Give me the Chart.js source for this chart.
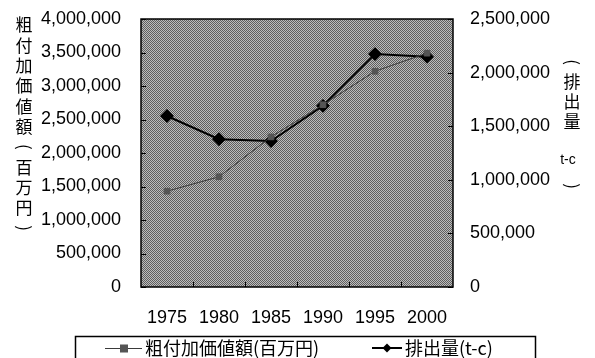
<!DOCTYPE html>
<html>
<head>
<meta charset="utf-8">
<script src="https://cdn.jsdelivr.net/npm/chart.js@4/dist/chart.umd.min.js"></script>
<style>
    html, body { margin: 0; padding: 0; background: #fff; }
    #wrap { width: 595px; height: 358px; position: relative; }
</style>
</head>
<body>
<div id="wrap"><canvas id="chartEmission" width="595" height="358"></canvas></div>
<script>
const years = ['1975', '1980', '1985', '1990', '1995', '2000'];
const valueAdded = [1430000, 1645000, 2240000, 2720000, 3220000, 3490000];
const emissions = [1595000, 1378000, 1362000, 1690000, 2173000, 2149000];
const leftTitle = ['粗', '付', '加', '価', '値', '額', '(', '百', '万', '円', ')'];
const rightTitle = ['(', '排', '出', '量'];
const seriesNames = ['粗付加価値額(百万円)', '排出量(t-c)'];

const palette = {
    ink: '#000000',
    squareLine: '#3a3a3a',
    square: '#555555',
    dark: '#5e5e5e',
    light: '#bcbcbc',
};

const numFont = { family: '"Liberation Sans", Arial, sans-serif', size: 18 };
const cjkFont = '"Noto Sans CJK JP", sans-serif';

function ditherPattern(ctx) {
    const tile = document.createElement('canvas');
    tile.width = 2;
    tile.height = 2;
    const t = tile.getContext('2d');
    t.fillStyle = palette.light;
    t.fillRect(0, 0, 2, 2);
    t.fillStyle = palette.dark;
    t.fillRect(0, 0, 1, 1);
    t.fillRect(1, 1, 1, 1);
    return ctx.createPattern(tile, 'repeat');
}

// vertical title glyph: brackets are turned so they read as ︵ ︶
function drawVChar(ctx, ch, x, y) {
    if (ch === '(' || ch === ')') {
        ctx.save();
        ctx.translate(x, y);
        ctx.rotate(Math.PI / 2);
        ctx.fillText(ch, 0, 0);
        ctx.restore();
    } else {
        ctx.fillText(ch, x, y);
    }
}

function fixWidth(width) {
    return (scale) => {
        scale.width = width;
        scale.paddingTop = 0;
        scale.paddingBottom = 0;
    };
}

const plotFrame = {
    id: 'plotFrame',
    beforeDatasetsDraw(chart) {
        const { ctx, chartArea: a } = chart;
        ctx.save();
        ctx.fillStyle = ditherPattern(ctx);
        ctx.fillRect(a.left, a.top, a.right - a.left, a.bottom - a.top);
        ctx.restore();
    },
    afterDatasetsDraw(chart) {
        const { ctx, chartArea: a, scales } = chart;
        ctx.save();
        ctx.strokeStyle = palette.ink;
        ctx.lineWidth = 1.5;
        ctx.strokeRect(a.left, a.top, a.right - a.left, a.bottom - a.top);

        ctx.lineWidth = 1;
        ctx.beginPath();
        scales.y.ticks.forEach((t) => {
            const y = Math.round(scales.y.getPixelForValue(t.value)) + 0.5;
            ctx.moveTo(a.left, y);
            ctx.lineTo(a.left + 5, y);
        });
        scales.y1.ticks.forEach((t) => {
            const y = Math.round(scales.y1.getPixelForValue(t.value)) + 0.5;
            ctx.moveTo(a.right - 5, y);
            ctx.lineTo(a.right, y);
        });
        const step = (a.right - a.left) / years.length;
        for (let i = 1; i < years.length; i++) {
            const x = Math.round(a.left + step * i) + 0.5;
            ctx.moveTo(x, a.bottom);
            ctx.lineTo(x, a.bottom - 5);
        }
        ctx.stroke();
        ctx.restore();
    },
    afterDraw(chart) {
        const { ctx } = chart;
        ctx.save();
        ctx.fillStyle = palette.ink;
        ctx.textAlign = 'center';
        ctx.textBaseline = 'middle';
        ctx.font = '17px ' + cjkFont;
        leftTitle.forEach((ch, i) => drawVChar(ctx, ch, 24, 25 + i * 20.3));
        rightTitle.forEach((ch, i) => drawVChar(ctx, ch, 572, 62 + i * 20));
        ctx.font = '14px ' + numFont.family;
        ctx.fillText('t-c', 568, 160);
        ctx.font = '17px ' + cjkFont;
        drawVChar(ctx, ')', 572, 186);

        // legend box
        ctx.strokeStyle = palette.ink;
        ctx.lineWidth = 1.5;
        ctx.strokeRect(75.5, 336.5, 460, 30);
        const ly = 348;
        ctx.lineWidth = 1;
        ctx.strokeStyle = palette.squareLine;
        ctx.beginPath();
        ctx.moveTo(105, ly + 0.5);
        ctx.lineTo(142, ly + 0.5);
        ctx.stroke();
        ctx.fillStyle = palette.square;
        ctx.fillRect(120, ly - 3.5, 8, 8);
        ctx.strokeStyle = palette.ink;
        ctx.lineWidth = 2;
        ctx.beginPath();
        ctx.moveTo(372, ly);
        ctx.lineTo(402, ly);
        ctx.stroke();
        ctx.fillStyle = palette.ink;
        ctx.beginPath();
        ctx.moveTo(387, ly - 4.5);
        ctx.lineTo(391.5, ly);
        ctx.lineTo(387, ly + 4.5);
        ctx.lineTo(382.5, ly);
        ctx.closePath();
        ctx.fill();
        ctx.textAlign = 'left';
        ctx.font = '18px ' + cjkFont;
        ctx.fillText(seriesNames[0], 145, ly);
        ctx.fillText(seriesNames[1], 405, ly);
        ctx.restore();
    },
};

const fmt = (v) => Number(v).toLocaleString('en-US');

new Chart(document.getElementById('chartEmission'), {
    type: 'line',
    data: {
        labels: years,
        datasets: [
            {
                label: seriesNames[0],
                data: valueAdded,
                yAxisID: 'y',
                borderColor: palette.squareLine,
                borderWidth: 1,
                pointStyle: 'rect',
                pointRadius: 4,
                pointBackgroundColor: palette.square,
                pointBorderColor: palette.square,
                pointBorderWidth: 1,
                tension: 0,
            },
            {
                label: seriesNames[1],
                data: emissions,
                yAxisID: 'y1',
                borderColor: palette.ink,
                borderWidth: 2,
                pointStyle: 'rectRot',
                pointRadius: 5.5,
                pointBackgroundColor: palette.ink,
                pointBorderColor: palette.ink,
                tension: 0,
            },
        ],
    },
    options: {
        responsive: false,
        animation: false,
        layout: { padding: { top: 19, left: 0, right: 0, bottom: 0 } },
        plugins: {
            legend: { display: false },
            tooltip: { enabled: false },
        },
        scales: {
            x: {
                offset: true,
                grid: { display: false, drawTicks: false },
                border: { display: false },
                ticks: { color: palette.ink, font: numFont, padding: 20, maxRotation: 0, autoSkip: false },
                afterFit(scale) { scale.height = 71; },
            },
            y: {
                position: 'left',
                min: 0,
                max: 4000000,
                grid: { display: false, drawTicks: false },
                border: { display: false },
                ticks: { stepSize: 500000, color: palette.ink, font: numFont, padding: 20, callback: fmt },
                afterFit: fixWidth(141),
            },
            y1: {
                position: 'right',
                min: 0,
                max: 2500000,
                grid: { display: false, drawTicks: false },
                border: { display: false },
                ticks: { stepSize: 500000, color: palette.ink, font: numFont, padding: 17, callback: fmt },
                afterFit: fixWidth(142),
            },
        },
    },
    plugins: [plotFrame],
});
</script>
</body>
</html>
